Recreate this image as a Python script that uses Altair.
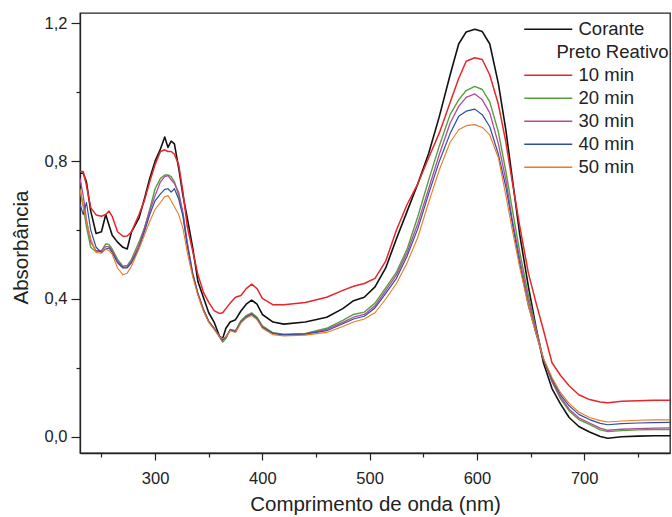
import altair as alt
import pandas as pd

wavelength = [230, 233, 236, 240, 245, 250, 254, 257, 260, 265, 270, 274, 278, 285, 290,
              295, 300, 305, 309, 312, 315, 318, 322, 326, 330, 335, 340, 345, 350, 355,
              360, 363, 366, 370, 375, 380, 385, 390, 395, 400, 410, 420, 440, 460, 475,
              485, 495, 505, 515, 525, 535, 545, 555, 565, 575, 583, 590, 598, 605, 612,
              620, 627, 633, 640, 648, 655, 662, 670, 678, 686, 695, 705, 715, 722, 735,
              750, 765, 780]

corante = [0.765, 0.765, 0.74, 0.655, 0.59, 0.595, 0.645, 0.615, 0.585, 0.565,
           0.55, 0.545, 0.595, 0.635, 0.69, 0.75, 0.80, 0.835, 0.87, 0.84,
           0.858, 0.85, 0.78, 0.70, 0.635, 0.55, 0.45, 0.405, 0.36, 0.333,
           0.292, 0.285, 0.315, 0.333, 0.34, 0.365, 0.385, 0.397, 0.385, 0.355,
           0.333, 0.327, 0.333, 0.347, 0.372, 0.395, 0.405, 0.435, 0.49, 0.575,
           0.655, 0.735, 0.822, 0.93, 1.05, 1.14, 1.175, 1.183, 1.176, 1.14,
           1.025, 0.89, 0.75, 0.585, 0.436, 0.32, 0.215, 0.14, 0.095, 0.056,
           0.03, 0.014, 0.001, -0.004, 0.0, 0.002, 0.003, 0.003]

min10 = [0.77, 0.77, 0.73, 0.665, 0.644, 0.64, 0.645, 0.655, 0.64, 0.595,
         0.582, 0.583, 0.595, 0.645, 0.685, 0.74, 0.79, 0.828, 0.833, 0.828,
         0.828, 0.82, 0.79, 0.71, 0.61, 0.54, 0.47, 0.42, 0.39, 0.366,
         0.358, 0.36, 0.372, 0.388, 0.405, 0.41, 0.43, 0.443, 0.43, 0.402,
         0.383, 0.383, 0.39, 0.405, 0.425, 0.437, 0.445, 0.46, 0.51, 0.60,
         0.675, 0.735, 0.81, 0.882, 0.97, 1.04, 1.09, 1.10, 1.095, 1.05,
         0.965, 0.855, 0.74, 0.61, 0.475, 0.39, 0.31, 0.215, 0.178, 0.148,
         0.122, 0.108, 0.101, 0.099, 0.103, 0.105, 0.106, 0.106]

min20 = [0.72, 0.67, 0.61, 0.55, 0.537, 0.54, 0.56, 0.558, 0.545, 0.515,
         0.495, 0.497, 0.515, 0.565, 0.605, 0.66, 0.72, 0.75, 0.76, 0.76,
         0.755, 0.74, 0.70, 0.645, 0.56, 0.475, 0.415, 0.37, 0.335, 0.315,
         0.29, 0.275, 0.285, 0.312, 0.308, 0.337, 0.352, 0.36, 0.347, 0.322,
         0.302, 0.298, 0.30, 0.315, 0.338, 0.355, 0.362, 0.388, 0.432, 0.478,
         0.545, 0.64, 0.745, 0.845, 0.935, 0.978, 1.005, 1.017, 1.008, 0.972,
         0.885, 0.77, 0.66, 0.535, 0.41, 0.315, 0.225, 0.16, 0.11, 0.075,
         0.05, 0.036, 0.02, 0.015, 0.018, 0.02, 0.021, 0.021]

min30 = [0.75, 0.70, 0.63, 0.565, 0.54, 0.54, 0.552, 0.552, 0.54, 0.51,
         0.492, 0.493, 0.51, 0.555, 0.605, 0.655, 0.70, 0.74, 0.755, 0.758,
         0.746, 0.735, 0.71, 0.65, 0.565, 0.475, 0.415, 0.37, 0.335, 0.315,
         0.292, 0.28, 0.288, 0.31, 0.306, 0.334, 0.349, 0.357, 0.344, 0.319,
         0.30, 0.296, 0.298, 0.312, 0.332, 0.347, 0.355, 0.38, 0.424, 0.47,
         0.535, 0.62, 0.72, 0.82, 0.91, 0.959, 0.985, 0.995, 0.978, 0.94,
         0.85, 0.745, 0.63, 0.515, 0.395, 0.31, 0.225, 0.162, 0.115, 0.08,
         0.055, 0.04, 0.025, 0.019, 0.022, 0.024, 0.025, 0.026]

min40 = [0.675, 0.645, 0.68, 0.60, 0.55, 0.535, 0.545, 0.548, 0.535, 0.505,
         0.49, 0.49, 0.505, 0.548, 0.595, 0.645, 0.685, 0.705, 0.718, 0.72,
         0.71, 0.72, 0.69, 0.64, 0.555, 0.472, 0.413, 0.368, 0.334, 0.314,
         0.292, 0.282, 0.29, 0.31, 0.305, 0.332, 0.347, 0.355, 0.343, 0.318,
         0.30, 0.296, 0.298, 0.308, 0.328, 0.342, 0.35, 0.374, 0.416, 0.46,
         0.525, 0.605, 0.705, 0.80, 0.88, 0.93, 0.945, 0.951, 0.935, 0.90,
         0.82, 0.725, 0.62, 0.50, 0.38, 0.30, 0.225, 0.168, 0.122, 0.09,
         0.065, 0.05, 0.039, 0.035, 0.038, 0.04, 0.041, 0.042]

min50 = [0.715, 0.67, 0.625, 0.575, 0.535, 0.533, 0.545, 0.54, 0.53, 0.49,
         0.47, 0.475, 0.495, 0.545, 0.585, 0.625, 0.66, 0.68, 0.697, 0.70,
         0.685, 0.668, 0.645, 0.605, 0.535, 0.465, 0.41, 0.365, 0.332, 0.312,
         0.29, 0.285, 0.29, 0.308, 0.303, 0.33, 0.345, 0.352, 0.34, 0.315,
         0.296, 0.293, 0.295, 0.303, 0.32, 0.333, 0.342, 0.36, 0.40, 0.445,
         0.505, 0.58, 0.68, 0.775, 0.855, 0.891, 0.903, 0.906, 0.898, 0.876,
         0.81, 0.70, 0.60, 0.49, 0.38, 0.30, 0.228, 0.172, 0.128, 0.097,
         0.072, 0.056, 0.047, 0.043, 0.046, 0.048, 0.049, 0.049]

series_names = ["Corante", "10 min", "20 min", "30 min", "40 min", "50 min"]
series_values = [corante, min10, min20, min30, min40, min50]
legend_domain = ["Corante", "Preto Reativo", "10 min", "20 min", "30 min", "40 min", "50 min"]
legend_colors = ["#111111", "transparent", "#e8262a", "#55a03c", "#b5479f", "#2d4f9c", "#ec7a25"]
line_widths = [1.6, 1.1, 1.3, 1.2, 1.2, 1.2]

x_ticks = [250, 300, 350, 400, 450, 500, 550, 600, 650, 700, 750]
y_ticks = [0.0, 0.2, 0.4, 0.6, 0.8, 1.0, 1.2]

rows = []
for i, (name, vals) in enumerate(zip(series_names, series_values)):
    for w, a in zip(wavelength, vals):
        rows.append({"Serie": name, "wl": w, "A": a, "ordem": i})
df = pd.DataFrame(rows)

FONT = "Liberation Sans"

chart = alt.Chart(df).mark_line(clip=True, strokeJoin="round").encode(
    x=alt.X("wl:Q",
            scale=alt.Scale(domain=[230, 780], nice=False, zero=False),
            axis=alt.Axis(title="Comprimento de onda (nm)", values=x_ticks,
                          labelExpr="datum.value % 100 === 0 ? datum.label : ''",
                          tickSize={"condition": {"test": "datum.value % 100 === 0", "value": 7}, "value": 4},
                          grid=False, labelFontSize=16.5, titleFontSize=20.5,
                          titlePadding=8, labelPadding=10)),
    y=alt.Y("A:Q",
            scale=alt.Scale(domain=[-0.047, 1.23], nice=False, zero=False),
            axis=alt.Axis(title="Absorbância", values=y_ticks,
                          labelExpr="round(datum.value*10) % 4 === 0 ? replace(format(datum.value, '.1f'), '.', ',') : ''",
                          tickSize={"condition": {"test": "round(datum.value*10) % 4 === 0", "value": 9}, "value": 4},
                          grid=False, labelFontSize=16.5, titleFontSize=20.5,
                          titlePadding=13, labelPadding=4, titleY=234)),
    color=alt.Color("Serie:N",
                    scale=alt.Scale(domain=legend_domain, range=legend_colors),
                    legend=alt.Legend(title=None, orient="none", legendX=459, legendY=7,
                                      symbolType="M-4.8,0H4.8", symbolSize=100, symbolStrokeWidth=1.3,
                                      labelFontSize=18.5, labelColor="#222222", labelFont=FONT,
                                      labelOffset={"expr": "datum.value === 'Preto Reativo' ? -1 : 21"},
                                      labelLimit=200, rowPadding=4, padding=0)),
    strokeWidth=alt.StrokeWidth("Serie:N", scale=alt.Scale(domain=series_names, range=line_widths), legend=None),
    order=alt.Order("wl:Q"),
).properties(
    width=590, height=440,
    autosize=alt.AutoSizeParams(type="none"),
    padding={"left": 80, "top": 13, "right": 2, "bottom": 64},
).configure_view(
    stroke="#222222", strokeWidth=1.3
).configure_axis(
    labelFont=FONT, titleFont=FONT, labelColor="#222222", titleColor="#222222",
    titleFontWeight="normal", domainColor="#222222", tickColor="#222222",
    domainWidth=1.3, tickWidth=1.2
)

chart.save("out.html", embed_options={"renderer": "svg", "actions": False})
